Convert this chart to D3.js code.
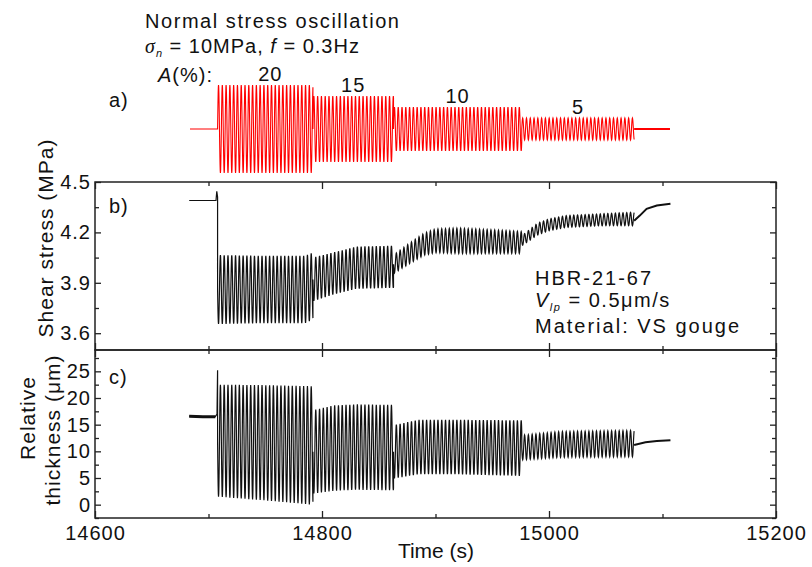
<!DOCTYPE html>
<html>
<head>
<meta charset="utf-8">
<script src="https://cdn.jsdelivr.net/npm/d3@7"></script>
<style>
  body { margin: 0; background: #fff; }
  svg { font-family: "Liberation Sans", Arial, sans-serif; }
  text { fill: #111; }
</style>
</head>
<body>
<div id="chart"></div>
<script>
const width = 812, height = 567;

// experiment
const freqHz = 0.3;
const sigmaN = 10;
const ampPct = [20, 15, 10, 5];
const segStart = [14708, 14792, 14863, 14976];
const segEnd = [14792, 14863, 14976, 15075];
const normalPre = [[14683.7, 10], [14708, 10]];
const normalPost = [[15075, 10], [15106.6, 10]];

// shear stress (MPa): [time, centre, half amplitude] per segment
const shearPre = [[14683, 4.39], [14706.6, 4.39], [14707.3, 4.445], [14708, 4.41]];
const shearSeg = [
  [[14708, 3.86, 0.205], [14750, 3.86, 0.2], [14785, 3.86, 0.2], [14792, 3.88, 0.2]],
  [[14792, 3.92, 0.13], [14810, 3.955, 0.125], [14830, 3.99, 0.125], [14863, 3.995, 0.125]],
  [[14863, 4.01, 0.055], [14876, 4.07, 0.06], [14890, 4.13, 0.065], [14900, 4.15, 0.07], [14920, 4.15, 0.075], [14950, 4.145, 0.07], [14976, 4.14, 0.065]],
  [[14976, 4.15, 0.03], [14990, 4.22, 0.035], [15000, 4.245, 0.035], [15015, 4.265, 0.035], [15045, 4.275, 0.035], [15075, 4.28, 0.04]]
];
const shearPost = [[15075, 4.27], [15080, 4.30], [15086, 4.34], [15095, 4.36], [15107, 4.37]];

// relative thickness (um)
const thickPre = [[14683, 16.6], [14695, 16.5], [14706, 16.5], [14707.5, 17.0], [14708, 25.2]];
const thickSeg = [
  [[14708, 12.0, 10.5], [14750, 11.6, 10.8], [14792, 11.1, 11.1]],
  [[14792, 9.9, 7.8], [14810, 10.6, 8.0], [14830, 10.8, 8.0], [14863, 10.7, 8.0]],
  [[14863, 9.9, 5.0], [14885, 10.8, 5.1], [14920, 10.8, 5.1], [14976, 10.6, 5.2]],
  [[14976, 10.7, 2.3], [15010, 11.3, 2.4], [15075, 11.45, 2.45]]
];
const thickPost = [[15075, 11.2], [15085, 11.7], [15095, 11.95], [15107, 12.1]];

// ticks
const xTicks = [14600, 14800, 15000, 15200];
const xMinor = [14700, 14900, 15100];
const shearTicks = [3.6, 3.9, 4.2, 4.5];
const shearMinor = [3.75, 4.05, 4.35];
const thickTicks = [0, 5, 10, 15, 20, 25];
const thickMinor = [-2.5, 2.5, 7.5, 12.5, 17.5, 22.5, 27.5];

const left = 95, right = 776;
const x = d3.scaleLinear([14600, 15200], [left, right]);
const yA = d3.scaleLinear([8, 12], [173, 85]);
const yB = d3.scaleLinear([3.5, 4.5], [350, 182]);
const yC = d3.scaleLinear([-2.5, 29], [518, 350]);

const svg = d3.select("#chart").append("svg")
  .attr("width", width).attr("height", height)
  .attr("viewBox", [0, 0, width, height]);

// sine at the loading frequency between envelope knots
const oscillate = (knots, t0, t1, sign) => {
  const cS = d3.scaleLinear(knots.map(k => k[0]), knots.map(k => k[1])).clamp(true);
  const aS = d3.scaleLinear(knots.map(k => k[0]), knots.map(k => k[2])).clamp(true);
  const step = 1 / freqHz / 20;
  const pts = [];
  for (let t = t0; t <= t1 + 1e-6; t += step) {
    pts.push([t, cS(t) + sign * aS(t) * Math.sin(2 * Math.PI * freqHz * (t - t0))]);
  }
  return pts;
};

const drawSeries = (yScale, pre, segs, post, color, sign, w) => {
  const line = d3.line().x(d => x(d[0])).y(d => yScale(d[1]));
  let pts = pre.slice();
  segs.forEach((k, i) => { pts = pts.concat(oscillate(k, segStart[i], segEnd[i], sign)); });
  svg.append("path").attr("d", line(pts))
    .attr("fill", "none").attr("stroke", color).attr("stroke-width", w);
  svg.append("path").attr("d", line(post))
    .attr("fill", "none").attr("stroke", color).attr("stroke-width", 2);
};

// panel a
const normalSeg = ampPct.map((a, i) => [[segStart[i], sigmaN, sigmaN * a / 100], [segEnd[i], sigmaN, sigmaN * a / 100]]);
drawSeries(yA, normalPre, normalSeg, normalPost, "#ff0000", 1, 1.1);

svg.selectAll(".amp-label")
  .data(ampPct)
  .join("text")
    .attr("class", "amp-label")
    .attr("x", (d, i) => x((segStart[i] + segEnd[i]) / 2) + (i === 0 ? 5 : 0))
    .attr("y", d => yA(sigmaN + sigmaN * d / 100) - 4)
    .attr("text-anchor", "middle")
    .attr("font-size", 20).attr("letter-spacing", 1)
    .text(d => d);

// panel frames and ticks
const panel = (yScale, y0, y1, major, minor, fmt) => {
  svg.append("rect")
    .attr("x", left).attr("y", y1).attr("width", right - left).attr("height", y0 - y1)
    .attr("fill", "none").attr("stroke", "#222").attr("stroke-width", 1.5);
  const g = svg.append("g");
  const add = (axis, tr) => {
    const a = g.append("g").attr("transform", tr).call(axis);
    a.select(".domain").remove();
    a.selectAll("line").attr("stroke", "#222").attr("stroke-width", 1.3);
    return a;
  };
  add(d3.axisBottom(x).tickValues(xTicks).tickSize(-7).tickFormat(""), `translate(0,${y0})`);
  add(d3.axisBottom(x).tickValues(xMinor).tickSize(-4).tickFormat(""), `translate(0,${y0})`);
  add(d3.axisTop(x).tickValues(xTicks).tickSize(-7).tickFormat(""), `translate(0,${y1})`);
  add(d3.axisTop(x).tickValues(xMinor).tickSize(-4).tickFormat(""), `translate(0,${y1})`);
  const la = add(d3.axisLeft(yScale).tickValues(major).tickSize(-6).tickPadding(4).tickFormat(fmt), `translate(${left},0)`);
  la.selectAll("text").attr("font-size", 20).attr("letter-spacing", 1).attr("fill", "#111")
    .attr("font-family", "Liberation Sans, Arial, sans-serif");
  add(d3.axisLeft(yScale).tickValues(minor).tickSize(-4).tickFormat(""), `translate(${left},0)`);
  add(d3.axisRight(yScale).tickValues(major).tickSize(-6).tickFormat(""), `translate(${right},0)`);
  add(d3.axisRight(yScale).tickValues(minor).tickSize(-4).tickFormat(""), `translate(${right},0)`);
};
panel(yB, 350, 182, shearTicks, shearMinor, d3.format(".1f"));
panel(yC, 518, 350, thickTicks, thickMinor, d3.format("d"));

// panel b, c data
drawSeries(yB, shearPre, shearSeg, shearPost, "#111", -1, 1.2);
drawSeries(yC, thickPre, thickSeg, thickPost, "#111", -1, 1.2);
svg.append("path")
  .attr("d", d3.line().x(d => x(d[0])).y(d => yC(d[1]))(thickPre.slice(0, 3)))
  .attr("fill", "none").attr("stroke", "#111").attr("stroke-width", 3);

// bottom axis labels
const bx = svg.append("g").attr("transform", "translate(0,518)")
  .call(d3.axisBottom(x).tickValues(xTicks).tickSize(0).tickPadding(8).tickFormat(d3.format("d")));
bx.select(".domain").remove();
bx.selectAll("text").attr("font-size", 20).attr("letter-spacing", 1).attr("fill", "#111")
  .attr("font-family", "Liberation Sans, Arial, sans-serif");

// texts
const txt = (s, tx, ty, size, opts = {}) => svg.append("text")
  .attr("x", tx).attr("y", ty).attr("font-size", size)
  .attr("letter-spacing", opts.ls ?? 1)
  .attr("text-anchor", opts.anchor || "start")
  .attr("transform", opts.rot ? `rotate(-90,${tx},${ty})` : null)
  .text(s);

txt("Normal stress oscillation", 145, 28, 20, { ls: 1.55 });
const l2 = svg.append("text").attr("x", 145).attr("y", 53).attr("font-size", 20).attr("letter-spacing", 1);
l2.append("tspan").attr("font-style", "italic").attr("font-family", "Liberation Serif, serif").text("σ");
l2.append("tspan").attr("font-style", "italic").attr("font-size", 11).attr("dy", 4).text("n");
l2.append("tspan").attr("dy", -4).text(" = 10MPa, ");
l2.append("tspan").attr("font-style", "italic").text("f");
l2.append("tspan").text(" = 0.3Hz");
const l3 = svg.append("text").attr("x", 158).attr("y", 82).attr("font-size", 20).attr("letter-spacing", 1);
l3.append("tspan").attr("font-style", "italic").text("A");
l3.append("tspan").text("(%):");
txt("a)", 109, 107, 20);
txt("b)", 109, 213, 20);
txt("c)", 109, 384, 20);

txt("HBR-21-67", 535, 285, 20, { ls: 2 });
const vt = svg.append("text").attr("x", 535).attr("y", 307).attr("font-size", 20).attr("letter-spacing", 1.5);
vt.append("tspan").attr("font-style", "italic").text("V");
vt.append("tspan").attr("font-style", "italic").attr("font-size", 11).attr("dy", 4).text("lp");
vt.append("tspan").attr("dy", -4).text(" = 0.5μm/s");
txt("Material: VS gouge", 535, 333, 20, { ls: 2 });

svg.append("text").attr("x", 436).attr("y", 558).attr("font-size", 21)
  .attr("text-anchor", "middle").attr("font-family", "Liberation Sans Narrow, Liberation Sans, Arial")
  .text("Time (s)");

txt("Shear stress (MPa)", 53, 238, 21, { rot: true, anchor: "middle" });
txt("Relative", 35, 418, 21, { rot: true, anchor: "middle" });
txt("thickness (μm)", 60, 430, 21, { rot: true, anchor: "middle" });
</script>
</body>
</html>
